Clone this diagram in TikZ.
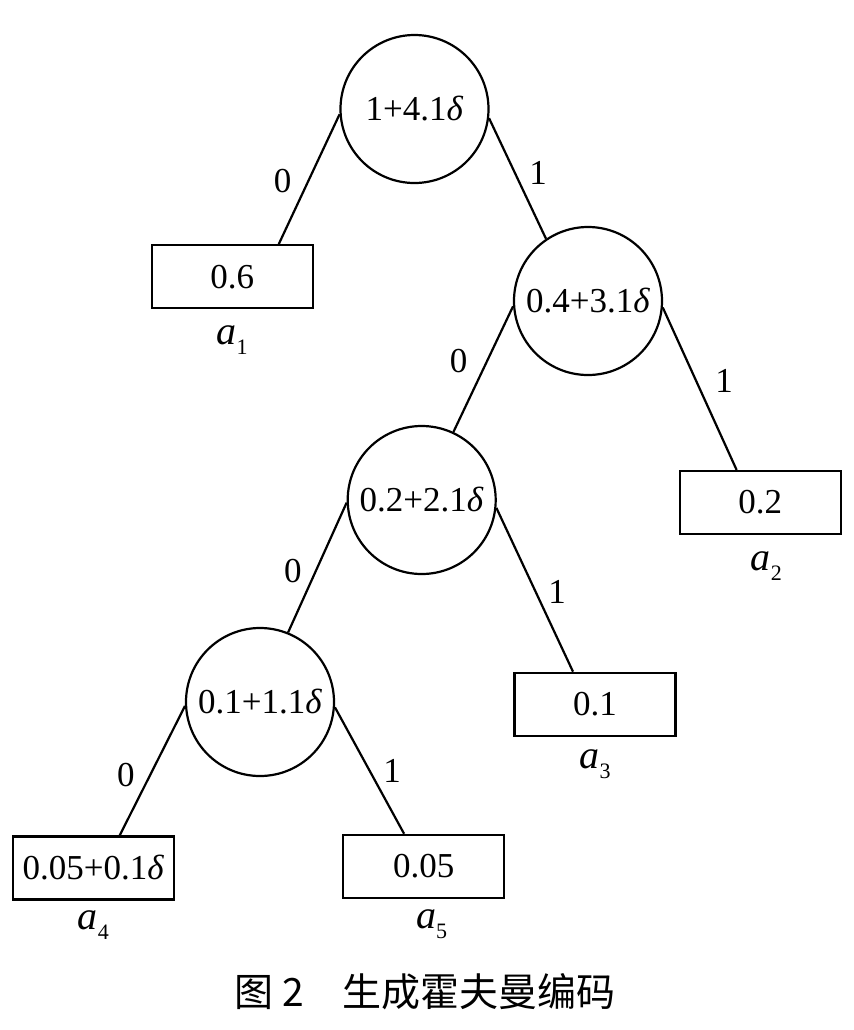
\documentclass[tikz,border=0pt]{standalone}
\usepackage{fontspec}
\setmainfont{Liberation Serif}
\newfontfamily\cjkfont{Noto Sans CJK SC}
\usepackage{tikz}
\usetikzlibrary{shapes,arrows,positioning}
\tikzstyle{line} = [draw, line width=1.1pt]
\tikzstyle{sumnode} = [draw, circle, line width=1.1pt, minimum size=74pt, inner sep=0pt, font=\fontsize{17.5}{21}\selectfont]
\tikzstyle{leafbox} = [draw, rectangle, line width=1.1pt, minimum width=80.5pt, minimum height=31.5pt, inner sep=0pt, font=\fontsize{17.5}{21}\selectfont]
\tikzstyle{bit} = [font=\fontsize{17.5}{21}\selectfont]
\tikzstyle{leaflabel} = [inner sep=0pt]
\newcommand{\leafname}[1]{{\fontsize{20}{24}\selectfont\itshape a}\raisebox{-5pt}{\fontsize{11}{13}\selectfont #1}}

\begin{document}
\begin{tikzpicture}[x=0.5pt, y=-0.5pt]
    \useasboundingbox (0,0) rectangle (854,1030);
    % Place nodes
     \node [sumnode] (root) at (414.5,109) {1+4.1\textit{δ}};
     \node [sumnode] (s2) at (588,301) {0.4+3.1\textit{δ}};
     \node [sumnode] (s3) at (421.7,500) {0.2+2.1\textit{δ}};
     \node [sumnode] (s4) at (260,702) {0.1+1.1\textit{δ}};

     \node [leafbox] (a1) at (232.2,276.7) {0.6};
     \node [leafbox] (a2) at (760.3,502.5) {0.2};
     \node [leafbox] (a3) at (595,704.3) {0.1};
     \node [leafbox] (a4) at (93.3,868) {0.05+0.1\textit{δ}};
     \node [leafbox] (a5) at (423.7,866.4) {0.05};

     \node [leaflabel, below=8pt of a1] (la1) {\leafname{1}};
     \node [leaflabel, below=8pt of a2, xshift=3pt] (la2) {\leafname{2}};
     \node [leaflabel, below=6pt of a3] (la3) {\leafname{3}};
     \node [leaflabel, below=5pt of a4] (la4) {\leafname{4}};
     \node [leaflabel, below=5pt of a5, xshift=4pt] (la5) {\leafname{5}};

     \path [line] (root.184.5) -- node [bit, left=5pt, yshift=-1pt] {0} (a1.35);
     \path [line] (root.353) -- node [bit, right=2pt, yshift=3pt] {1} (s2.124);
     \path [line] (s2.184.3) -- node [bit, left=4pt, yshift=4pt] {0} (s3.65);
     \path [line] (s2.355.3) -- node [bit, right=4pt, yshift=4pt] {1} (a2.126.8);
     \path [line] (s3.182.3) -- node [bit, left=4pt, yshift=-2pt] {0} (s4.68.6);
     \path [line] (s3.354.8) -- node [bit, right=3pt, yshift=-1pt] {1} (a3.124.9);
     \path [line] (s4.183.8) -- node [bit, left=5pt, yshift=-2pt] {0} (a4.51.4);
     \path [line] (s4.356.3) -- node [bit, right=3pt] {1} (a5.121.6);

     \node [font=\cjkfont\fontsize{19.5}{24}\selectfont] (caption) at (425,992) {图 2\quad 生成霍夫曼编码};

\end{tikzpicture}
\end{document}
